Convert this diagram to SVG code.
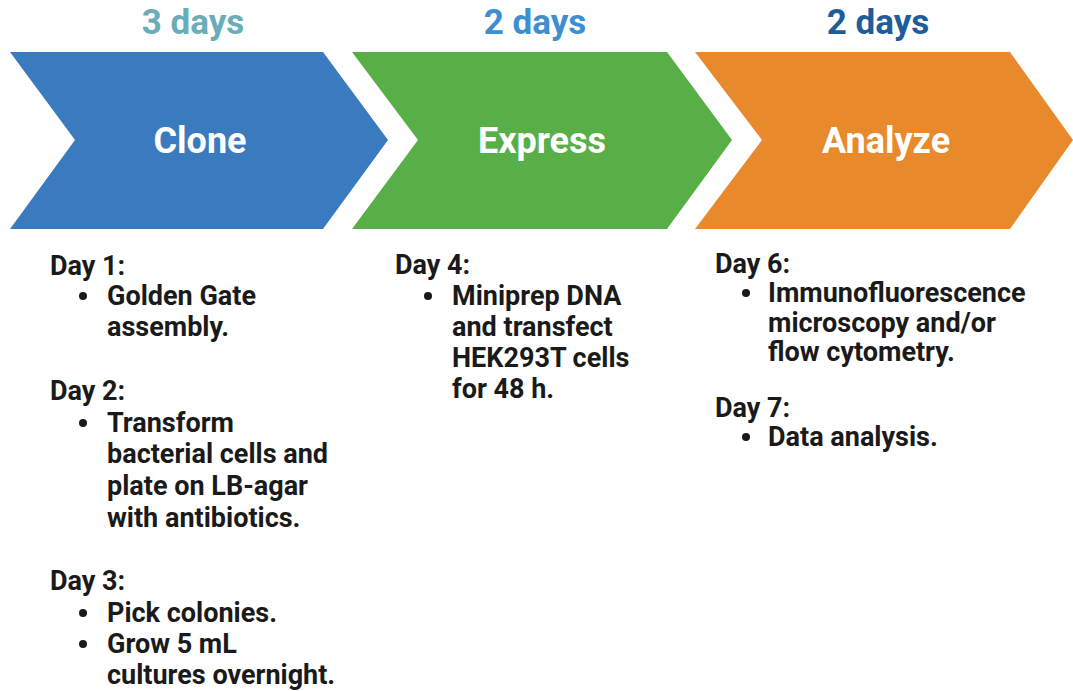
<svg xmlns="http://www.w3.org/2000/svg" width="1073" height="691" viewBox="0 0 1073 691">
<style>
text{font-family:Roboto,"Liberation Sans",sans-serif;font-weight:bold}
.dur{font-size:35px;text-anchor:middle}
.lbl{font-size:36px;fill:#fff;text-anchor:middle}
.body{font-size:27px;fill:#1a1a1a}
</style>
<rect width="1073" height="691" fill="#fff"/>
<g id="clone">
<polygon points="10,52 323,52 388,140 323,229 10,229 75,140" fill="#3a7bbf"/>
<text class="dur" x="193" y="34" fill="#6aacb8">3 days</text>
<text class="lbl" x="200" y="153">Clone</text>
</g>
<g id="express">
<polygon points="352,52 667,52 732,140 667,229 352,229 418,140" fill="#58ae47"/>
<text class="dur" x="535" y="34" fill="#3d8fd1">2 days</text>
<text class="lbl" x="542" y="153">Express</text>
</g>
<g id="analyze">
<polygon points="695,52 1010,52 1073,140 1010,229 695,229 762,140" fill="#e8892b"/>
<text class="dur" x="878" y="34" fill="#1e5c9c">2 days</text>
<text class="lbl" x="886" y="153">Analyze</text>
</g>
<g id="clone-steps">
<text class="body" x="50" y="275">Day 1:</text>
<circle cx="83" cy="296" r="4" fill="#1a1a1a"/>
<text class="body" x="107" y="305">Golden Gate</text>
<text class="body" x="107" y="336">assembly.</text>
<text class="body" x="50" y="400">Day 2:</text>
<circle cx="83" cy="423" r="4" fill="#1a1a1a"/>
<text class="body" x="107" y="432">Transform</text>
<text class="body" x="107" y="463">bacterial cells and</text>
<text class="body" x="107" y="495">plate on LB-agar</text>
<text class="body" x="107" y="527">with antibiotics.</text>
<text class="body" x="50" y="590">Day 3:</text>
<circle cx="83" cy="613" r="4" fill="#1a1a1a"/>
<text class="body" x="107" y="622">Pick colonies.</text>
<circle cx="83" cy="644" r="4" fill="#1a1a1a"/>
<text class="body" x="107" y="653">Grow 5 mL</text>
<text class="body" x="107" y="684">cultures overnight.</text>
</g>
<g id="express-steps">
<text class="body" x="395" y="274">Day 4:</text>
<circle cx="428" cy="296" r="4" fill="#1a1a1a"/>
<text class="body" x="452" y="305">Miniprep DNA</text>
<text class="body" x="452" y="336">and transfect</text>
<text class="body" x="452" y="367">HEK293T cells</text>
<text class="body" x="452" y="398">for 48 h.</text>
</g>
<g id="analyze-steps">
<text class="body" x="715" y="273">Day 6:</text>
<circle cx="746" cy="293" r="4" fill="#1a1a1a"/>
<text class="body" x="768" y="302">Immunofluorescence</text>
<text class="body" x="768" y="332">microscopy and/or</text>
<text class="body" x="768" y="361">flow cytometry.</text>
<text class="body" x="715" y="417">Day 7:</text>
<circle cx="746" cy="437" r="4" fill="#1a1a1a"/>
<text class="body" x="768" y="446">Data analysis.</text>
</g>
<g id="connectors"/>
</svg>
